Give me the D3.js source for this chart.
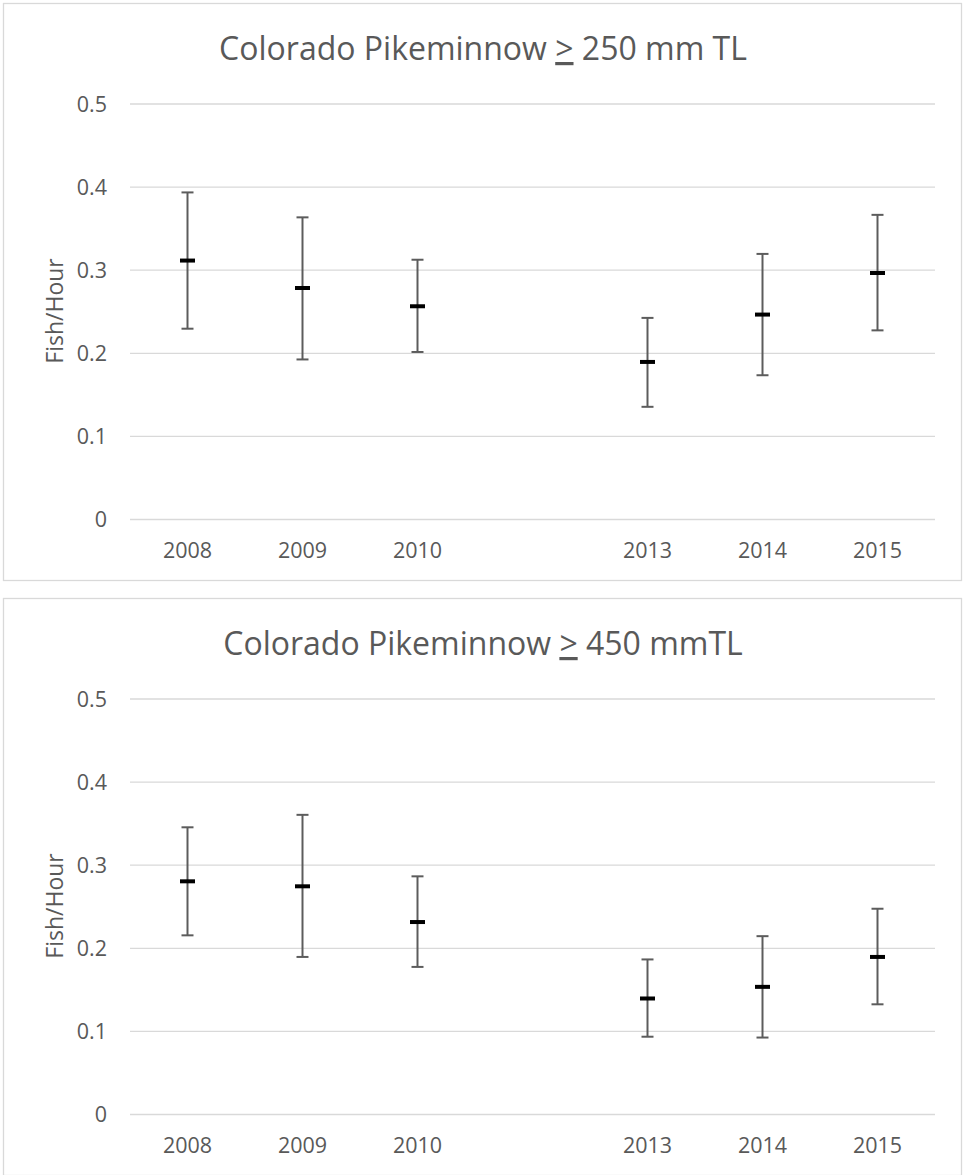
<!DOCTYPE html>
<html>
<head>
<meta charset="utf-8">
<script src="https://cdn.jsdelivr.net/npm/d3@7"></script>
<style>
  html, body { margin: 0; padding: 0; background: #fff; }
  svg { display: block; }
  text { font-family: "Open Sans", "Noto Sans", sans-serif; fill: #595959; }
</style>
</head>
<body>
<svg id="chart" width="963" height="1175"></svg>
<script>
// ---------- data ----------
const categories = ["2008", "2009", "2010", "", "2013", "2014", "2015"];
const yTicks = [0, 0.1, 0.2, 0.3, 0.4, 0.5];
const yTickLabels = ["0", "0.1", "0.2", "0.3", "0.4", "0.5"];
const yAxisTitle = "Fish/Hour";

const title250 = ["Colorado Pikeminnow ", ">", " 250 mm TL"];
const mean250  = [0.311, 0.278, 0.256, null, 0.189, 0.246, 0.296];
const upper250 = [0.393, 0.363, 0.312, null, 0.242, 0.319, 0.366];
const lower250 = [0.229, 0.192, 0.201, null, 0.135, 0.173, 0.227];

const title450 = ["Colorado Pikeminnow ", ">", " 450 mmTL"];
const mean450  = [0.280, 0.274, 0.231, null, 0.139, 0.153, 0.189];
const upper450 = [0.345, 0.360, 0.286, null, 0.186, 0.214, 0.247];
const lower450 = [0.215, 0.189, 0.177, null, 0.093, 0.092, 0.132];

// ---------- drawing ----------
const svg = d3.select("#chart");

function drawPanel(offsetY, titleParts, mean, upper, lower, boxW) {
  const g = svg.append("g").attr("transform", `translate(0,${offsetY})`);

  // chart frame
  g.append("rect")
    .attr("x", 3.5).attr("y", 3.5)
    .attr("width", boxW).attr("height", 577)
    .attr("fill", "#fff").attr("stroke", "#d9d9d9").attr("stroke-width", 1.3);

  const x = d3.scaleBand().domain(categories).range([130, 935]).paddingInner(0).paddingOuter(0);
  const y = d3.scaleLinear().domain([0, 0.5]).range([519, 103.5]);

  // title
  const t = g.append("text")
    .attr("x", 483).attr("y", 60)
    .attr("text-anchor", "middle")
    .style("font-size", "32px");
  titleParts.forEach((p, i) => {
    const ts = t.append("tspan").text(p);
    if (i === 1) ts.style("text-decoration", "underline");
  });

  // y axis with gridlines
  const yAxis = d3.axisLeft(y)
    .tickValues(yTicks)
    .tickFormat((d, i) => yTickLabels[i])
    .tickSize(-805)
    .tickPadding(23);
  const ya = g.append("g").attr("transform", "translate(130,0)").call(yAxis);
  ya.select(".domain").remove();
  ya.attr("font-family", null).attr("font-size", null);
  ya.selectAll(".tick line").attr("stroke", "#d9d9d9").attr("stroke-width", 1.3);
  ya.selectAll(".tick text")
    .style("font-size", "21.5px").attr("fill", "#595959")
    .attr("dy", "0.36em");

  // x axis labels
  const xAxis = d3.axisBottom(x).tickSize(0).tickPadding(0);
  const xa = g.append("g").attr("transform", "translate(0,519)").call(xAxis);
  xa.select(".domain").remove();
  xa.attr("font-family", null).attr("font-size", null);
  xa.selectAll(".tick text")
    .style("font-size", "21.5px").attr("fill", "#595959")
    .attr("dy", null).attr("y", 38.5);

  // y axis title
  g.append("text")
    .attr("transform", "translate(63,311) rotate(-90)")
    .attr("text-anchor", "middle")
    .style("font-size", "23px")
    .text(yAxisTitle);

  // error bars
  const rows = categories.map((c, i) => ({ c, m: mean[i], hi: upper[i], lo: lower[i] }))
    .filter(d => d.m !== null);
  const cx = d => x(d.c) + x.bandwidth() / 2;
  const bars = g.append("g").selectAll("g").data(rows).join("g");
  const eb = { stroke: "#5c5c5c", w: 2 };
  bars.append("line")
    .attr("x1", cx).attr("x2", cx)
    .attr("y1", d => y(d.hi)).attr("y2", d => y(d.lo))
    .attr("stroke", eb.stroke).attr("stroke-width", eb.w);
  bars.append("line")
    .attr("x1", d => cx(d) - 6).attr("x2", d => cx(d) + 6)
    .attr("y1", d => y(d.hi)).attr("y2", d => y(d.hi))
    .attr("stroke", eb.stroke).attr("stroke-width", eb.w);
  bars.append("line")
    .attr("x1", d => cx(d) - 6).attr("x2", d => cx(d) + 6)
    .attr("y1", d => y(d.lo)).attr("y2", d => y(d.lo))
    .attr("stroke", eb.stroke).attr("stroke-width", eb.w);
  bars.append("line")
    .attr("x1", d => cx(d) - 7.5).attr("x2", d => cx(d) + 7.5)
    .attr("y1", d => y(d.m)).attr("y2", d => y(d.m))
    .attr("stroke", "#000").attr("stroke-width", 4);
}

drawPanel(0, title250, mean250, upper250, lower250, 958);
drawPanel(595, title450, mean450, upper450, lower450, 958);
</script>
</body>
</html>
